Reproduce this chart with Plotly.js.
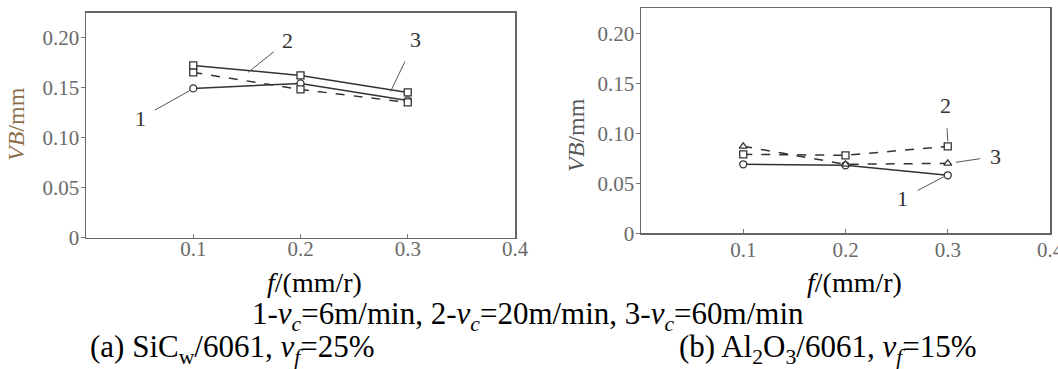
<!DOCTYPE html>
<html>
<head>
<meta charset="utf-8">
<script src="https://cdn.plot.ly/plotly-3.0.1.min.js"></script>
<style>html,body{margin:0;padding:0;background:#fff;}#chart{width:1058px;height:369px;}</style>
</head>
<body>
<div id="chart"></div>
<script>
// Feed rate f (mm/r)
const feed = [0.1, 0.2, 0.3];
// (a) SiCw/6061, vf=25%  — VB (mm)
const a_vc6  = [0.149, 0.154, 0.137];
const a_vc20 = [0.165, 0.148, 0.135];
const a_vc60 = [0.172, 0.162, 0.145];
// (b) Al2O3/6061, vf=15% — VB (mm)
const b_vc6  = [0.069, 0.068, 0.058];
const b_vc20 = [0.079, 0.078, 0.087];
const b_vc60 = [0.087, 0.069, 0.070];
// Tick labels
const xTicks = [0.1, 0.2, 0.3, 0.4];
const xTickText = ["0.1", "0.2", "0.3", "0.4"];
const yTicks = [0, 0.05, 0.10, 0.15, 0.20];
const yTickText = ["0", "0.05", "0.10", "0.15", "0.20"];

const W = 1058, H = 369;
const px = v => v / W;
const py = v => 1 - v / H;

const lineCol = '#333';
function tr(x, y, sym, dash, xa, ya) {
  return {
    x: x, y: y, xaxis: xa, yaxis: ya, type: 'scatter', mode: 'lines+markers',
    line: {color: lineCol, width: 1.5, dash: dash},
    marker: {symbol: sym, size: 7, color: '#fff', line: {color: lineCol, width: 1.3}},
    showlegend: false, hoverinfo: 'skip'
  };
}

const data = [
  tr(feed, a_vc6, 'circle', 'solid', 'x', 'y'),
  tr(feed, a_vc20, 'square', 'dash', 'x', 'y'),
  tr(feed, a_vc60, 'square', 'solid', 'x', 'y'),
  tr(feed, b_vc6, 'circle', 'solid', 'x2', 'y2'),
  tr(feed, b_vc20, 'square', 'dash', 'x2', 'y2'),
  tr(feed, b_vc60, 'triangle-up', 'dash', 'x2', 'y2')
];

const serif = '"Liberation Serif"';
const tickFont = {family: serif, size: 21, color: '#6a6a6a'};

function xaxis(d0, d1, anchor, standoff) {
  return {
    domain: [px(d0), px(d1)], range: [0, 0.4], anchor: anchor,
    tickvals: xTicks, ticktext: xTickText, ticks: 'inside', ticklen: 4, tickcolor: '#777',
    showline: true, linecolor: '#666', linewidth: 1.5, mirror: true,
    showgrid: false, zeroline: false, tickfont: tickFont, fixedrange: true,
    ticklabeloverflow: 'allow', ticklabelstandoff: standoff
  };
}
function yaxis(top, bottom, topVal, anchor) {
  return {
    domain: [py(bottom), py(top)], range: [0, topVal], anchor: anchor,
    tickvals: yTicks, ticktext: yTickText, ticks: 'outside', ticklen: 4, tickcolor: '#777',
    showline: true, linecolor: '#666', linewidth: 1.5, mirror: true,
    showgrid: false, zeroline: false, tickfont: tickFont, fixedrange: true,
    ticklabeloverflow: 'allow', ticklabelstandoff: -3
  };
}

const capFont = {family: serif, size: 31, color: '#000'};
const lblFont = {family: serif, size: 22, color: '#333'};

function lbl(text, x, y, ax, ay, xr, yr) {
  return {text: text, x: x, y: y, xref: xr, yref: yr, ax: ax, ay: ay,
    showarrow: true, arrowhead: 0, arrowwidth: 1, arrowcolor: '#555',
    font: lblFont, standoff: 0, startstandoff: 9};
}
function cap(text, xPx, yPx, size) {
  return {text: text, x: px(xPx), y: py(yPx), xref: 'paper', yref: 'paper',
    showarrow: false, xanchor: 'center', yanchor: 'middle',
    font: Object.assign({}, capFont, size ? {size: size} : {})};
}

const vc = '<i>v</i><sub><i>c</i></sub>';
const annotations = [
  // axis titles
  {text: '<i>VB</i>/mm', textangle: -90, x: px(16), y: py(124), xref: 'paper', yref: 'paper',
   xanchor: 'center', yanchor: 'middle',
   showarrow: false, font: {family: serif, size: 24, color: '#8b6d47'}},
  {text: '<i>VB</i>/mm', textangle: -90, x: px(576), y: py(135), xref: 'paper', yref: 'paper',
   xanchor: 'center', yanchor: 'middle',
   showarrow: false, font: {family: serif, size: 24, color: '#555'}},
  // curve labels (a)
  lbl('1', 0.097, 0.147, -50, 28, 'x', 'y'),
  lbl('2', 0.151, 0.165, 40, -32, 'x', 'y'),
  lbl('3', 0.284, 0.146, 25, -52, 'x', 'y'),
  // curve labels (b)
  lbl('2', 0.300, 0.092, -2, -36, 'x2', 'y2'),
  lbl('3', 0.308, 0.071, 40, -6, 'x2', 'y2'),
  lbl('1', 0.297, 0.057, -42, 22, 'x2', 'y2'),
  // captions
  cap('<i>f</i>/(mm/r)', 314, 282, 28),
  cap('<i>f</i>/(mm/r)', 854, 282, 28),
  cap('1-' + vc + '=6m/min, 2-' + vc + '=20m/min, 3-' + vc + '=60m/min', 528, 316),
  cap('(a) SiC<sub>w</sub>/6061, <i>v</i><sub><i>f</i></sub>=25%', 232, 349),
  cap('(b) Al<sub>2</sub>O<sub>3</sub>/6061, <i>v</i><sub><i>f</i></sub>=15%', 828, 349)
];

const layout = {
  width: W, height: H,
  margin: {l: 0, r: 0, t: 0, b: 0},
  paper_bgcolor: '#fff', plot_bgcolor: '#fff',
  showlegend: false,
  xaxis: xaxis(86, 515, 'y', -8),
  yaxis: yaxis(12.7, 237.7, 0.2246, 'x'),
  xaxis2: xaxis(641, 1050, 'y2', -3),
  yaxis2: yaxis(8.3, 233.3, 0.225, 'x2'),
  annotations: annotations
};

Plotly.newPlot('chart', data, layout, {displayModeBar: false, staticPlot: true});
</script>
</body>
</html>
